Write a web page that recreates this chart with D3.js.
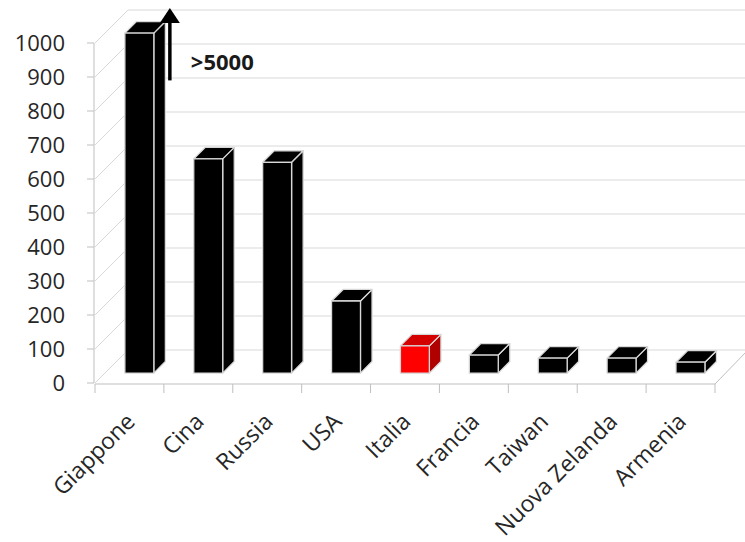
<!DOCTYPE html>
<html>
<head>
<meta charset="utf-8">
<script src="https://cdn.jsdelivr.net/npm/d3@7"></script>
<style>
  body { margin: 0; background: #fff; }
  svg { display: block; }
  text { font-family: "Open Sans", sans-serif; }
</style>
</head>
<body>
<svg id="chart" width="745" height="542"></svg>
<script>
// Data
const categories = ["Giappone", "Cina", "Russia", "USA", "Italia", "Francia", "Taiwan", "Nuova Zelanda", "Armenia"];
const values = [5000, 630, 620, 212, 80, 53, 44, 44, 32];
const highlighted = ["Italia"];
const yTickValues = [0, 100, 200, 300, 400, 500, 600, 700, 800, 900, 1000];
const overflowLabel = ">5000";

const svg = d3.select("#chart");

// 3D box geometry: the floor recedes at 45 degrees by `depth` pixels
const depth = 33;
const proj = (px, py, f) => [px + depth * f, py - depth * f];

const x = d3.scaleBand().domain(categories).range([95, 715]);
const y = d3.scaleLinear().domain([0, 1000]).range([383, 43]).clamp(true);

const gridColor = "#d9d9d9";
const axisColor = "#bfbfbf";
const textColor = "#262626";

// Side-wall diagonals and back-wall gridlines
svg.append("g")
  .selectAll("path")
  .data(yTickValues)
  .join("path")
  .attr("fill", "none")
  .attr("stroke", gridColor)
  .attr("stroke-width", 1)
  .attr("d", t => {
    const [bx, by] = proj(x.range()[0], y(t), 1);
    return `M${x.range()[0]},${y(t)}L${bx},${by}H${x.range()[1] + depth}`;
  });

// Floor: front edge and right edge
const [frx, fry] = proj(x.range()[1], y(0), 1);
svg.append("path")
  .attr("fill", "none")
  .attr("stroke", axisColor)
  .attr("d", `M${x.range()[0]},${y(0) + 1}H${x.range()[1]}L${frx},${fry}`);

// Category ticks
const boundaries = categories.map(c => x(c)).concat([x.range()[1]]);
svg.append("g")
  .selectAll("line")
  .data(boundaries)
  .join("line")
  .attr("x1", d => d).attr("x2", d => d)
  .attr("y1", y(0) + 1).attr("y2", y(0) + 10)
  .attr("stroke", axisColor);

// Value axis
const yAxis = svg.append("g");
yAxis.append("line")
  .attr("x1", 94).attr("x2", 94)
  .attr("y1", y(1000)).attr("y2", y(0))
  .attr("stroke", axisColor);
yAxis.selectAll("line.tick")
  .data(yTickValues)
  .join("line")
  .attr("class", "tick")
  .attr("x1", 87).attr("x2", 94)
  .attr("y1", d => y(d)).attr("y2", d => y(d))
  .attr("stroke", axisColor);
yAxis.selectAll("text")
  .data(yTickValues)
  .join("text")
  .attr("x", 65)
  .attr("y", d => y(d))
  .attr("dy", "0.36em")
  .attr("text-anchor", "end")
  .attr("font-size", 22)
  .attr("fill", textColor)
  .text(d => d);

// Bars as 3D boxes
const f0 = 0.3, f1 = 0.65;
const barW = x.bandwidth() * 0.42;
const poly = pts => "M" + pts.map(p => p.join(",")).join("L") + "Z";

const bars = svg.append("g")
  .selectAll("g")
  .data(categories.map((c, i) => ({ c, v: values[i] })))
  .join("g");

bars.each(function (d) {
  const g = d3.select(this);
  const x0 = x(d.c) + (x.bandwidth() - barW) / 2;
  const x1 = x0 + barW;
  const yt = y(d.v), yb = y(0);
  const hot = highlighted.includes(d.c);
  const cFront = hot ? "#ff0000" : "#000";
  const cSide = hot ? "#b00000" : "#000";
  const cTop = hot ? "#d40000" : "#000";
  const edge = { stroke: "#d8d8d8", "stroke-width": 1.3, "stroke-linejoin": "round" };

  const side = [proj(x1, yb, f0), proj(x1, yb, f1), proj(x1, yt, f1), proj(x1, yt, f0)];
  const top = [proj(x0, yt, f0), proj(x1, yt, f0), proj(x1, yt, f1), proj(x0, yt, f1)];
  const front = [proj(x0, yb, f0), proj(x1, yb, f0), proj(x1, yt, f0), proj(x0, yt, f0)];

  [[side, cSide], [top, cTop], [front, cFront]].forEach(([pts, col]) => {
    const p = g.append("path").attr("d", poly(pts)).attr("fill", col);
    Object.entries(edge).forEach(([k, val]) => p.attr(k, val));
  });
});

// Overflow marker for the first bar
const first = categories[0];
const arrowX = proj(x(first) + (x.bandwidth() + barW) / 2, 0, f1)[0] + 4.5;
const arrowBottom = y(890);
const arrowTip = y(1000) - depth - 2;
const ann = svg.append("g");
ann.append("line")
  .attr("x1", arrowX).attr("x2", arrowX)
  .attr("y1", arrowBottom).attr("y2", arrowTip + 12)
  .attr("stroke", "#000").attr("stroke-width", 3.5);
ann.append("path")
  .attr("d", `M${arrowX},${arrowTip}L${arrowX + 10},${arrowTip + 15}L${arrowX - 10},${arrowTip + 15}Z`)
  .attr("fill", "#000");
ann.append("text")
  .attr("x", arrowX + 21)
  .attr("y", y(943))
  .attr("dy", "0.36em")
  .attr("font-size", 22)
  .attr("font-weight", "bold")
  .attr("fill", "#1a1a1a")
  .text(overflowLabel);

// Category labels, rotated
svg.append("g")
  .selectAll("text")
  .data(categories)
  .join("text")
  .attr("text-anchor", "end")
  .attr("font-size", 23)
  .attr("fill", textColor)
  .attr("transform", c => `translate(${x(c) + x.bandwidth() / 2 + 7},${y(0) + 40}) rotate(-45)`)
  .text(c => c);
</script>
</body>
</html>
